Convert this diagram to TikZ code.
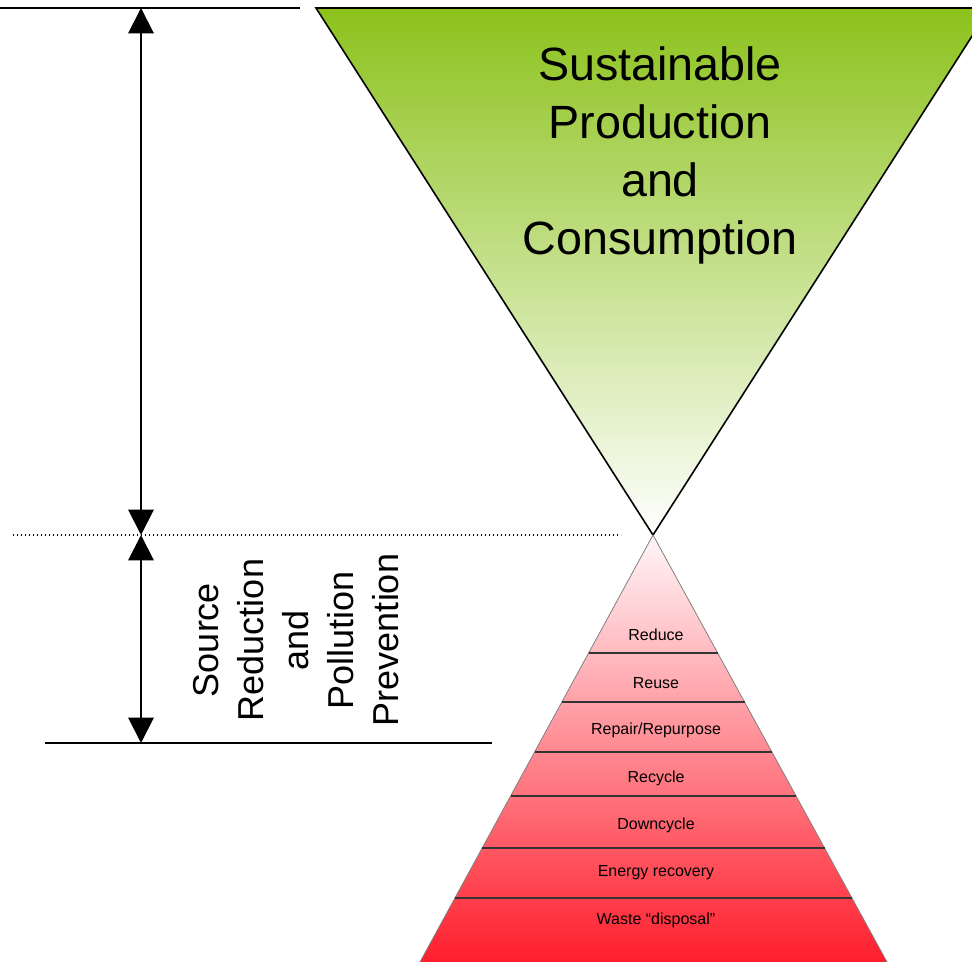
\documentclass[tikz,border=0pt]{standalone}
\usepackage{fontspec}
\setmainfont{Liberation Sans}
\usetikzlibrary{arrows.meta,calc}
\definecolor{leafgreen}{HTML}{8CC21C}
\definecolor{palepink}{HTML}{FFF6F8}
\definecolor{midpink}{HTML}{FFBDC2}
\definecolor{hotred}{HTML}{FF1E2D}
\begin{document}
\begin{tikzpicture}[x=0.75pt,y=-0.75pt,
    rule/.style={line width=1.5pt},
    span/.style={line width=1.5pt,
      {Triangle[width=19pt,length=19pt]}-{Triangle[width=19pt,length=19pt]}},
    cut/.style={line width=0.8pt,black!80},
    tier/.style={font=\fontsize{12}{14}\selectfont}]
  \useasboundingbox (0,0) rectangle (972,962);
  \clip (0,0) rectangle (972,962);

  % funnel and pyramid corners
  \coordinate (apex) at (653,535);
  \coordinate (funnelL) at (316,8);
  \coordinate (funnelR) at (990,8);
  \coordinate (baseL) at (420,962);
  \coordinate (baseR) at (887,962);

  \shade[top color=leafgreen,bottom color=white] (funnelL) -- (funnelR) -- (apex) -- cycle;
  \draw[line width=1.2pt,line join=miter] (funnelL) -- (funnelR) -- (apex) -- cycle;
  \node[align=center,font=\fontsize{35}{43.5}\selectfont] (spc) at (660,155)
    {Sustainable\\Production\\and\\Consumption};

  \shade[top color=palepink,middle color=midpink,bottom color=hotred] (apex) -- (baseL) -- (baseR) -- cycle;
  \draw[gray,line width=0.6pt] (baseL) -- (apex) -- (baseR);

  \def \Cuts {653, 702, 752, 796, 848, 898}
  \def \Tiers {
    reduce/Reduce/635,
    reuse/Reuse/683,
    repair/Repair\slash Repurpose/730,
    recycle/Recycle/778,
    downcycle/Downcycle/825,
    energy/Energy recovery/873,
    waste/Waste “disposal”/920}

  \foreach \y in \Cuts {
    \coordinate (cutL\y) at ($(apex)!{(\y-535)/427}!(baseL)$);
    \coordinate (cutR\y) at ($(apex)!{(\y-535)/427}!(baseR)$);
    \draw[cut] (cutL\y) -- (cutR\y);
  }
  \foreach \id / \txt / \y in \Tiers {
    \node[tier] (\id) at (656,\y) {\txt};
  }

  % guide lines and spans
  \coordinate (topL) at (0,8);
  \coordinate (topR) at (300,8);
  \coordinate (midL) at (13,535);
  \coordinate (midR) at (621,535);
  \coordinate (botL) at (45,743);
  \coordinate (botR) at (492,743);
  \draw[rule] (topL) -- (topR);
  \draw[line width=1pt,dash pattern=on 1pt off 2pt] (midL) -- (midR);
  \draw[rule] (botL) -- (botR);

  \coordinate (armTop) at (141,8);
  \coordinate (armMid) at (141,535);
  \coordinate (armBot) at (141,743);
  \draw[span] (armTop) -- (armMid);
  \draw[span] (armMid) -- (armBot);

  \node[rotate=90,align=center,font=\fontsize{27}{33.75}\selectfont] (srpp) at (296,640)
    {Source\\Reduction\\and\\Pollution\\Prevention};
\end{tikzpicture}
\end{document}
